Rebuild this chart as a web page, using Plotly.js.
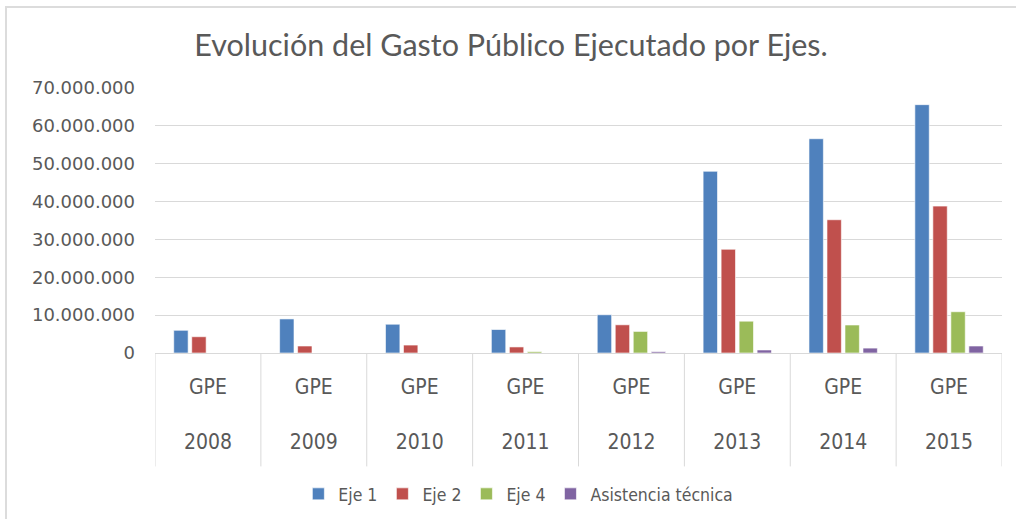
<!DOCTYPE html>
<html>
<head>
<meta charset="utf-8">
<script src="https://cdn.plot.ly/plotly-3.0.1.min.js"></script>
<style>
  html, body { margin: 0; padding: 0; background: #fff; }
  #wrap { position: relative; width: 1016px; height: 519px; }
  #chart { width: 1016px; height: 519px; }
  #frame { position: absolute; left: 5px; top: 6px; right: -10px; bottom: -10px;
           border-left: 2px solid #DCDCDC; border-top: 2px solid #DCDCDC; pointer-events: none; }
</style>
</head>
<body>
<div id="wrap">
  <div id="chart"></div>
  <div id="frame"></div>
</div>
<script>
const years = ['2008', '2009', '2010', '2011', '2012', '2013', '2014', '2015'];
const groupLabel = 'GPE';
const seriesNames = ['Eje 1', 'Eje 2', 'Eje 4', 'Asistencia técnica'];
const eje1 = [6000000, 9000000, 7600000, 6200000, 10100000, 48000000, 56600000, 65600000];
const eje2 = [4300000, 1850000, 2100000, 1600000, 7450000, 27400000, 35200000, 38800000];
const eje4 = [0, 0, 0, 350000, 5700000, 8400000, 7400000, 10900000];
const asistencia = [0, 0, 0, 0, 350000, 800000, 1300000, 1850000];
const colors = ['#4F81BD', '#C0504D', '#9BBB59', '#8064A2'];
const yTicks = [0, 10000000, 20000000, 30000000, 40000000, 50000000, 60000000, 70000000];

const seriesValues = [eje1, eje2, eje4, asistencia];
const xIdx = years.map((_, i) => i);
const tickText = years.map(y => groupLabel + '<br><br>' + y);

const traces = seriesValues.map((vals, k) => ({
  type: 'bar',
  name: seriesNames[k],
  x: xIdx,
  y: vals,
  marker: { color: colors[k], line: { color: 'rgba(255,255,255,0.6)', width: 1 } },
  hoverinfo: 'x+y+name'
}));

const shapes = [];
for (let i = 0; i <= years.length; i++) {
  shapes.push({
    type: 'line', xref: 'x', yref: 'paper',
    x0: i - 0.5, x1: i - 0.5, y0: 0, y1: -0.428,
    line: { color: '#D9D9D9', width: 1 }, layer: 'below'
  });
}

const layout = {
  width: 1016, height: 519,
  margin: { l: 155, r: 14, t: 88, b: 166, autoexpand: false },
  paper_bgcolor: 'rgba(0,0,0,0)',
  plot_bgcolor: '#fff',
  separators: ',.',
  barmode: 'group',
  bargap: 0.32,
  bargroupgap: 0.2,
  title: {
    text: 'Evolución del Gasto Público Ejecutado por Ejes.',
    font: { family: 'Lato, "Open Sans", sans-serif', size: 30.5, color: '#595959' },
    x: 0.503, xref: 'container', xanchor: 'center',
    y: 0.912, yref: 'container', yanchor: 'middle'
  },
  xaxis: {
    type: 'linear',
    range: [-0.5, years.length - 0.5],
    tickvals: xIdx,
    ticktext: tickText,
    ticks: '',
    showgrid: false,
    zeroline: false,
    showline: true,
    linecolor: '#D9D9D9',
    linewidth: 1,
    tickfont: { family: '"Liberation Sans Narrow", "Arial Narrow", "DejaVu Sans Condensed", sans-serif', size: 21, color: '#595959' },
    ticklabelstandoff: 15,
    fixedrange: true
  },
  yaxis: {
    range: [0, 70000000],
    tickvals: yTicks,
    tickformat: ',d',
    showgrid: true,
    gridcolor: '#D9D9D9',
    gridwidth: 1,
    zeroline: false,
    showline: false,
    ticks: '',
    ticklabelstandoff: 19,
    tickfont: { family: '"DejaVu Sans", Verdana, sans-serif', size: 18, color: '#595959' },
    fixedrange: true
  },
  showlegend: true,
  legend: {
    orientation: 'h',
    x: 0.429, xanchor: 'center',
    y: -0.532, yanchor: 'middle',
    font: { family: '"Liberation Sans Narrow", "Arial Narrow", "DejaVu Sans Condensed", sans-serif', size: 17.5, color: '#595959' },
    itemwidth: 30,
    tracegroupgap: 0,
    traceorder: 'normal'
  },
  shapes: shapes
};

Plotly.newPlot('chart', traces, layout, { displayModeBar: false, staticPlot: true });
</script>
</body>
</html>
